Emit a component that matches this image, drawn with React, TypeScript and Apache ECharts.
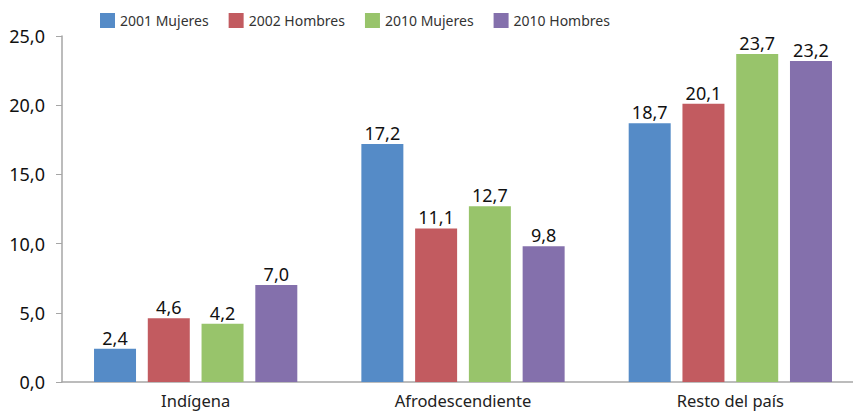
import React, { useEffect, useRef } from "react";
import * as echarts from "echarts";

const categories = ["Indígena", "Afrodescendiente", "Resto del país"];
const seriesNames = ["2001 Mujeres", "2002 Hombres", "2010 Mujeres", "2010 Hombres"];
const mujeres2001 = [2.4, 17.2, 18.7];
const hombres2002 = [4.6, 11.1, 20.1];
const mujeres2010 = [4.2, 12.7, 23.7];
const hombres2010 = [7.0, 9.8, 23.2];
const colors = ["#558BC7", "#C25B60", "#98C46B", "#8470AC"];

const fmt = (v: number) => v.toFixed(1).replace(".", ",");
const FONT = "Noto Sans";

export default function App() {
  const ref = useRef<HTMLDivElement>(null);
  useEffect(() => {
    document.body.style.margin = "0";
    if (!ref.current) return;
    const chart = echarts.init(ref.current, undefined, { renderer: "svg" });
    const values = [mujeres2001, hombres2002, mujeres2010, hombres2010];
    chart.setOption({
      animation: false,
      textStyle: { fontFamily: FONT },
      legend: {
        left: 100,
        top: 13,
        padding: 0,
        itemWidth: 15,
        itemHeight: 15,
        itemGap: 20,
        icon: "rect",
        textStyle: { fontSize: 14, color: "#333", fontFamily: FONT },
        data: seriesNames,
      },
      grid: {
        left: 62,
        top: 36,
        width: 802,
        height: 346,
        containLabel: false,
        outerBoundsMode: "none",
      },
      xAxis: {
        type: "category",
        data: categories,
        axisLine: { lineStyle: { color: "#A6A6A6", width: 1.5 } },
        axisTick: { show: false },
        axisLabel: { fontSize: 16.5, color: "#222", margin: 10, fontFamily: FONT },
      },
      yAxis: {
        type: "value",
        min: 0,
        max: 25,
        interval: 5,
        splitLine: { show: false },
        axisLine: { show: true, lineStyle: { color: "#A6A6A6", width: 1.5 } },
        axisTick: { show: true, length: 6, lineStyle: { color: "#A6A6A6" } },
        axisLabel: {
          fontSize: 18,
          color: "#111",
          margin: 17,
          fontFamily: FONT,
          formatter: (v: number) => fmt(v),
        },
      },
      series: seriesNames.map((name, i) => ({
        name,
        type: "bar",
        data: values[i],
        barWidth: 42,
        barGap: "28%",
        itemStyle: { color: colors[i] },
        label: {
          show: true,
          position: "top",
          distance: 2,
          fontSize: 18,
          color: "#111",
          fontFamily: FONT,
          formatter: (p: any) => fmt(p.value),
        },
      })),
    });
    return () => chart.dispose();
  }, []);
  return <div ref={ref} style={{ width: 853, height: 411 }} />;
}
